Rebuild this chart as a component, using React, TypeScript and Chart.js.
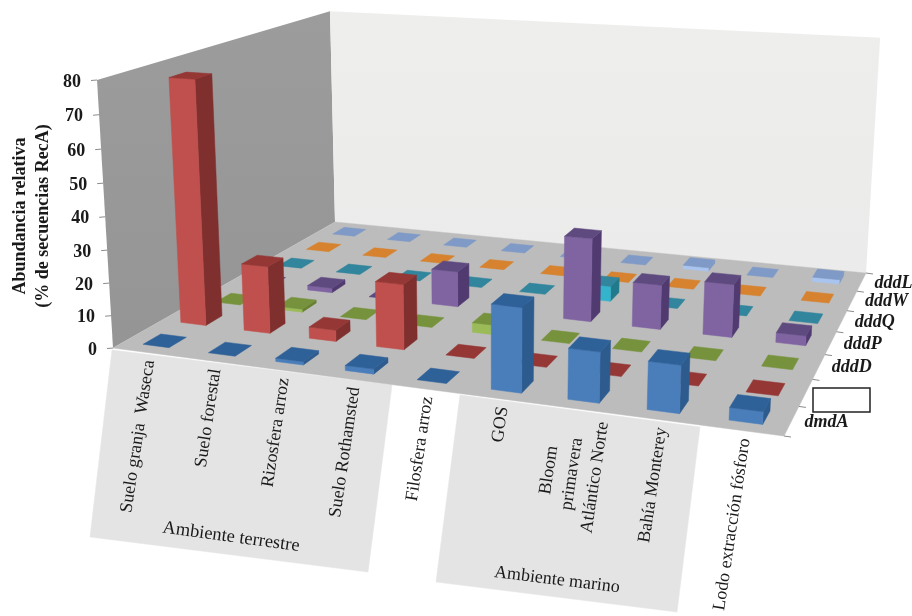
import React, { useEffect, useRef } from "react";
import { Chart, ScatterController, registerables } from "chart.js";

// Environments along the front edge; each entry holds the lines of one label.
const categories: string[][] = [
  ["Suelo granja  Waseca"],
  ["Suelo forestal"],
  ["Rizosfera arroz"],
  ["Suelo Rothamsted"],
  ["Filosfera arroz"],
  ["GOS"],
  ["Bloom", "primavera", "Atlántico Norte"],
  ["Bahía Monterey"],
  ["Lodo extracción fósforo"],
];

// Relative abundance per gene, one list per depth row, front row first.
const dmdA = [0, 0, 1, 1.5, 0, 24.5, 14.5, 13.5, 3.5];
const hiddenRow = [76.5, 21, 3.5, 20, 0, 0, 0, 0, 0];
const dddD = [0, 1, 0, 0, 3, 0, 0, 0, 0];
const dddP = [0, 1.5, 0, 11.5, 0, 26.5, 14, 16.5, 3];
const dddQ = [0, 0, 0, 0, 0, 5, 0, 0, 0];
const dddW = [0, 0, 0, 0, 0, 0, 0, 0, 0];
const dddL = [0, 0, 0, 0, 0, 0, 1.2, 0, 1.5];

const seriesRows = [dmdA, hiddenRow, dddD, dddP, dddQ, dddW, dddL];
const seriesLabels = ["dmdA", "", "dddD", "dddP", "dddQ", "dddW", "dddL"];
const valueTicks = [0, 10, 20, 30, 40, 50, 60, 70, 80];
const valueMax = 80;

// Face colours for each row: front, right side, top.
const rowColors = [
  ["#4a7ebb", "#2d5b8e", "#2f6199"],
  ["#c0504d", "#7f2f2d", "#953735"],
  ["#9bbb59", "#66802f", "#76923c"],
  ["#8064a2", "#503a70", "#5f4a80"],
  ["#33b3cc", "#217a8c", "#31859c"],
  ["#e88a33", "#b56a22", "#d6822f"],
  ["#a9c5ef", "#7f9ac6", "#7f9ac6"],
];

const BAR_WIDTH = 0.4;
const BAR_DEPTH = 0.46;

type Pt = { x: number; y: number };

// Camera: floor corners and the wall tops define a projective map
// from (across, depth, height), all in 0..1, to canvas coordinates.
const floor = {
  frontLeft: [113, 348],
  frontRight: [784, 436],
  backRight: [866, 273],
  backLeft: [335, 222],
};
const topFrontLeft = [97, 80];
const topBackLeft = [330, 12];

function buildCamera() {
  const { frontLeft: a, frontRight: b, backRight: c, backLeft: d } = floor;
  const dx1 = b[0] - c[0];
  const dx2 = d[0] - c[0];
  const sx = a[0] - b[0] + c[0] - d[0];
  const dy1 = b[1] - c[1];
  const dy2 = d[1] - c[1];
  const sy = a[1] - b[1] + c[1] - d[1];
  const det = dx1 * dy2 - dx2 * dy1;
  const g = (sx * dy2 - dx2 * sy) / det;
  const i = (dx1 * sy - sx * dy1) / det;
  const ax = b[0] - a[0] + g * b[0];
  const bx = d[0] - a[0] + i * d[0];
  const ay = b[1] - a[1] + g * b[1];
  const by = d[1] - a[1] + i * d[1];
  const j = (bx + topFrontLeft[0] - topBackLeft[0] * (1 + i)) / (topBackLeft[0] - topFrontLeft[0]);
  const cx = topFrontLeft[0] * (1 + j) - a[0];
  const cy = topFrontLeft[1] * (1 + j) - a[1];
  return { g, i, j, ax, bx, cx, ay, by, cy, x0: a[0], y0: a[1] };
}
const cam = buildCamera();

function project(u: number, v: number, h = 0): Pt {
  const w = 1 + cam.g * u + cam.i * v + cam.j * h;
  return {
    x: (cam.x0 + cam.ax * u + cam.bx * v + cam.cx * h) / w,
    y: (cam.y0 + cam.ay * u + cam.by * v + cam.cy * h) / w,
  };
}

// Fills each dataset's points as one closed polygon, or strokes them when only two are given.
class FacetController extends ScatterController {
  static id = "facet";
  static defaults = ScatterController.defaults;
  static overrides = ScatterController.overrides;
  draw() {
    const ctx = this.chart.ctx;
    const ds: any = this.getDataset();
    const pts = this.getMeta().data as any[];
    ctx.save();
    ctx.beginPath();
    pts.forEach((p, n) => (n ? ctx.lineTo(p.x, p.y) : ctx.moveTo(p.x, p.y)));
    if (pts.length > 2) {
      ctx.closePath();
      if (Array.isArray(ds.gradient)) {
        const ys = pts.map((p) => p.y);
        const grad = ctx.createLinearGradient(0, Math.min(...ys), 0, Math.max(...ys));
        grad.addColorStop(0, ds.gradient[0]);
        grad.addColorStop(1, ds.gradient[1]);
        ctx.fillStyle = grad;
      } else {
        ctx.fillStyle = ds.backgroundColor;
      }
      ctx.fill();
    }
    if (ds.borderColor) {
      ctx.strokeStyle = ds.borderColor;
      ctx.lineWidth = ds.borderWidth ?? 1;
      ctx.stroke();
    }
    ctx.restore();
  }
}

Chart.register(...registerables, FacetController);

function facet(data: Pt[], backgroundColor: string | null, extra: object = {}) {
  const seam = backgroundColor ? { borderColor: backgroundColor, borderWidth: 0.5 } : {};
  return { type: "facet", data, backgroundColor, clip: false, ...seam, ...extra };
}

function barFacets(cat: number, row: number, value: number, colors: string[]) {
  const nc = categories.length;
  const nr = seriesRows.length;
  const u0 = (cat + 0.5 - BAR_WIDTH / 2) / nc;
  const u1 = (cat + 0.5 + BAR_WIDTH / 2) / nc;
  const v0 = (row + 0.5 - BAR_DEPTH / 2) / nr;
  const v1 = (row + 0.5 + BAR_DEPTH / 2) / nr;
  const h = value / valueMax;
  const faces: any[] = [];
  if (h > 0) {
    faces.push(
      facet([project(u1, v0, 0), project(u1, v1, 0), project(u1, v1, h), project(u1, v0, h)], colors[1]),
      facet([project(u0, v0, 0), project(u1, v0, 0), project(u1, v0, h), project(u0, v0, h)], colors[0]),
    );
  }
  faces.push(facet([project(u0, v0, h), project(u1, v0, h), project(u1, v1, h), project(u0, v1, h)], colors[2]));
  return faces;
}

function buildDatasets() {
  const list: any[] = [];
  // Label panels behind the environment names.
  list.push(facet([{ x: 112, y: 350 }, { x: 392, y: 385 }, { x: 368, y: 572 }, { x: 90, y: 537 }], "#e4e4e4"));
  list.push(facet([{ x: 460, y: 395 }, { x: 700, y: 427 }, { x: 677, y: 612 }, { x: 436, y: 582 }], "#e4e4e4"));
  // Walls and floor.
  list.push(facet([project(0, 0, 0), project(0, 1, 0), project(0, 1, 1), project(0, 0, 1)], null, { gradient: ["#9c9c9c", "#959595"] }));
  list.push(facet([project(0, 1, 0), project(1, 1, 0), project(1, 1, 1), project(0, 1, 1)], null, { gradient: ["#eeeeec", "#ebebeb"] }));
  list.push(facet([project(0, 0, 0), project(1, 0, 0), project(1, 1, 0), project(0, 1, 0)], "#bcbcbc"));
  // Axis ticks.
  valueTicks.forEach((t) => {
    const p = project(0, 0, t / valueMax);
    list.push(facet([p, { x: p.x - 6, y: p.y + 0.5 }], null, { borderColor: "#8a8a8a", borderWidth: 1 }));
  });
  for (let r = 0; r <= seriesRows.length; r++) {
    const p = project(1, r / seriesRows.length);
    list.push(facet([p, { x: p.x + 7, y: p.y + 1 }], null, { borderColor: "#8a8a8a", borderWidth: 1 }));
  }
  // Bars, painted from the back row forward and left to right.
  for (let r = seriesRows.length - 1; r >= 0; r--) {
    seriesRows[r].forEach((value, c) => list.push(...barFacets(c, r, value, rowColors[r])));
  }
  // Blank box over the second row's label.
  list.push(facet([{ x: 813, y: 388 }, { x: 870, y: 388 }, { x: 870, y: 412 }, { x: 813, y: 412 }], "#ffffff", { borderColor: "#222222", borderWidth: 1.5 }));
  // Chart.js paints the last dataset first, so reverse to keep the painter's order.
  return list.reverse();
}

const SERIF = "'Liberation Serif', 'Times New Roman', serif";

function rotatedText(ctx: CanvasRenderingContext2D, text: string, x: number, y: number, deg: number, align: CanvasTextAlign, font: string, color = "#1a1a1a") {
  ctx.save();
  ctx.translate(x, y);
  ctx.rotate((deg * Math.PI) / 180);
  ctx.font = font;
  ctx.fillStyle = color;
  ctx.textAlign = align;
  ctx.textBaseline = "middle";
  ctx.fillText(text, 0, 0);
  ctx.restore();
}

const textPlugin = {
  id: "axisText",
  afterDatasetsDraw(chart: Chart) {
    const ctx = chart.ctx;
    // Value axis.
    valueTicks.forEach((t) => {
      const p = project(0, 0, t / valueMax);
      rotatedText(ctx, String(t), p.x - 16, p.y + 2, 0, "right", `bold 18px ${SERIF}`);
    });
    rotatedText(ctx, "Abundancia relativa", 20, 216, -90, "center", `bold 18px ${SERIF}`);
    rotatedText(ctx, "(% de secuencias RecA)", 43, 216, -90, "center", `bold 18px ${SERIF}`);
    // Environment names hang under the front edge.
    categories.forEach((lines, c) => {
      const p = project((c + 0.5) / categories.length, 0);
      if (lines.length === 1) {
        rotatedText(ctx, lines[0], p.x + 4, p.y + 8, -81.5, "right", `18px ${SERIF}`);
      } else {
        lines.forEach((line, n) => {
          const off = (n - (lines.length - 1) / 2) * 23;
          rotatedText(ctx, line, p.x - 5 + off, p.y + 65 + off * 0.16, -81.5, "center", `18px ${SERIF}`);
        });
      }
    });
    rotatedText(ctx, "Ambiente terrestre", 231, 537, 7.8, "center", `18.5px ${SERIF}`);
    rotatedText(ctx, "Ambiente marino", 557, 580, 7, "center", `18px ${SERIF}`);
    // Depth axis names.
    seriesLabels.forEach((name, r) => {
      if (!name) return;
      const p = project(1, (r + 0.5) / seriesLabels.length);
      rotatedText(ctx, name, p.x + 13, p.y + 1, 0, "left", `italic bold 18px ${SERIF}`);
    });
  },
};

export default function App() {
  const ref = useRef<HTMLCanvasElement | null>(null);
  useEffect(() => {
    if (!ref.current) return;
    const chart = new Chart(ref.current, {
      type: "facet" as any,
      data: { datasets: buildDatasets() },
      options: {
        animation: false,
        responsive: false,
        events: [],
        layout: { padding: 0, autoPadding: false },
        plugins: { legend: { display: false }, tooltip: { enabled: false } },
        scales: {
          x: { type: "linear", min: 0, max: 912, display: false },
          y: { type: "linear", min: 0, max: 616, reverse: true, display: false },
        },
      },
      plugins: [textPlugin],
    } as any);
    return () => chart.destroy();
  }, []);
  return (
    <div style={{ position: "absolute", left: 0, top: 0, width: 912, height: 616, background: "#ffffff" }}>
      <canvas ref={ref} width={912} height={616} style={{ display: "block" }} />
    </div>
  );
}
